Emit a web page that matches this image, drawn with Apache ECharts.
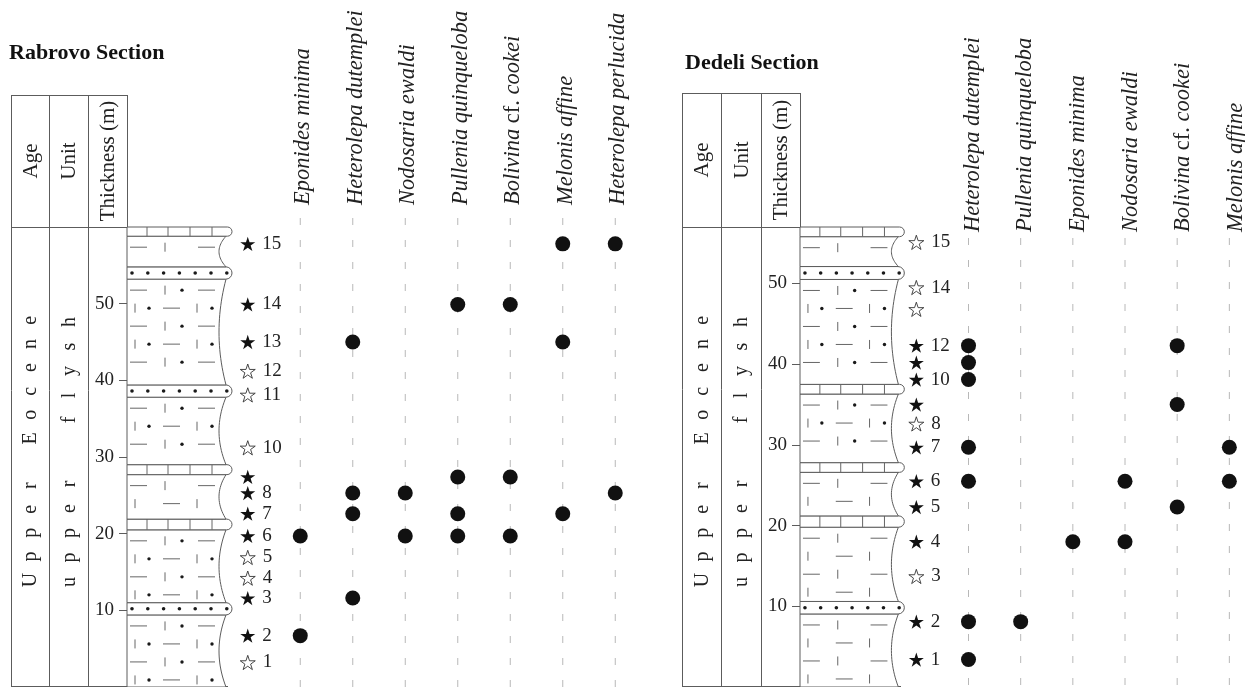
<!DOCTYPE html>
<html>
<head>
<meta charset="utf-8">
<script src="https://cdn.jsdelivr.net/npm/echarts@6/dist/echarts.min.js"></script>
<style>
  html, body { margin: 0; padding: 0; background: #fff; }
  #chart { width: 1245px; height: 687px; }
</style>
</head>
<body>
<div id="chart"></div>
<script>
// ---------------- Rabrovo section ----------------
const rabrovoSampleHeights = [3.2, 6.7, 11.6, 14.2, 16.9, 19.7, 22.6, 25.3, 27.4, 31.2, 38.1, 41.2, 45.0, 49.9, 57.8];
const rabrovoSampleLabels = ['1', '2', '3', '4', '5', '6', '7', '8', '', '10', '11', '12', '13', '14', '15'];
const rabrovoSampleBearing = [false, true, true, false, false, true, true, true, true, false, false, false, true, true, true];
const rabrovoSpecies = ['Eponides minima', 'Heterolepa dutemplei', 'Nodosaria ewaldi', 'Pullenia quinqueloba',
  'Bolivina cf. cookei', 'Melonis affine', 'Heterolepa perlucida'];
// sample numbers in which each species occurs
const rabrovoOccurrences = [[2, 6], [3, 7, 8, 13], [6, 8], [6, 7, 9, 14], [6, 9, 14], [7, 13, 15], [8, 15]];
// lithology: [base (m), top (m), rock type]
const rabrovoLayers = [
  [0, 9.4, 'silty'], [9.4, 11.0, 'sand'], [11.0, 20.5, 'silty'], [20.5, 21.9, 'lime'],
  [21.9, 27.7, 'marl'], [27.7, 29.0, 'lime'], [29.0, 37.8, 'silty'], [37.8, 39.4, 'sand'],
  [39.4, 53.2, 'silty'], [53.2, 54.8, 'sand'], [54.8, 58.8, 'marl'], [58.8, 60, 'lime']
];

// ---------------- Dedeli section ----------------
const dedeliSampleHeights = [3.4, 8.1, 13.7, 18.0, 22.3, 25.5, 29.7, 32.6, 35.0, 38.1, 40.2, 42.3, 46.8, 49.5, 55.1];
const dedeliSampleLabels = ['1', '2', '3', '4', '5', '6', '7', '8', '', '10', '', '12', '', '14', '15'];
const dedeliSampleBearing = [true, true, false, true, true, true, true, false, true, true, true, true, false, false, false];
const dedeliSpecies = ['Heterolepa dutemplei', 'Pullenia quinqueloba', 'Eponides minima', 'Nodosaria ewaldi',
  'Bolivina cf. cookei', 'Melonis affine'];
const dedeliOccurrences = [[1, 2, 6, 7, 10, 11, 12], [2], [4], [4, 6], [5, 9, 12], [6, 7]];
const dedeliLayers = [
  [0, 9.05, 'marl'], [9.05, 10.6, 'sand'], [10.6, 19.8, 'marl'], [19.8, 21.2, 'lime'],
  [21.2, 26.6, 'marl'], [26.6, 27.8, 'lime'], [27.8, 36.3, 'silty'], [36.3, 37.5, 'lime'],
  [37.5, 50.5, 'silty'], [50.5, 52.1, 'sand'], [52.1, 55.8, 'marl'], [55.8, 57, 'lime']
];

const ageWords = ['Upper', 'Eocene'];
const unitWords = ['upper', 'flysh'];
const headerLabels = ['Age', 'Unit', 'Thickness (m)'];

// ---------------- drawing ----------------
const SERIF = '"Liberation Serif", "Times New Roman", serif';
const INK = '#222';
const RULE = '#5c5c5c';
const STAR = 'path://M0,-10L2.245,-3.09L9.51,-3.09L3.633,1.18L5.88,8.09L0,3.82L-5.88,8.09L-3.633,1.18L-9.51,-3.09L-2.245,-3.09Z';

const sections = [
  {
    title: 'Rabrovo Section', heights: rabrovoSampleHeights, labels: rabrovoSampleLabels,
    bearing: rabrovoSampleBearing, species: rabrovoSpecies, occurrences: rabrovoOccurrences,
    layers: rabrovoLayers, maxThickness: 60,
    frame: { gridLeft: 127, gridTop: 227, plotHeight: 465, unit: 52.5, xMin: -3.3, xMax: 6.5,
      cols: [11, 49, 88, 127], tableTop: 95, headerBottom: 227, bottom: 686,
      titleX: 9, titleY: 42, headerBase: 205, guideTop: 218 }
  },
  {
    title: 'Dedeli Section', heights: dedeliSampleHeights, labels: dedeliSampleLabels,
    bearing: dedeliSampleBearing, species: dedeliSpecies, occurrences: dedeliOccurrences,
    layers: dedeliLayers, maxThickness: 57,
    frame: { gridLeft: 800, gridTop: 227, plotHeight: 470, unit: 52.6, xMin: -3.23, xMax: 5.3,
      cols: [682, 721, 761, 800], tableTop: 93, headerBottom: 227, bottom: 686,
      titleX: 685, titleY: 52, headerBase: 232, guideTop: 238 }
  }
];

// column of rock symbols, drawn from the layer table through the axes
function lithologyRenderer(layers, xLeft) {
  return function (params, api) {
    const layer = layers[params.dataIndex];
    const kind = layer[2];
    const a = api.coord([xLeft, layer[1]]);
    const b = api.coord([xLeft, layer[0]]);
    const x0 = a[0], y0 = a[1], y1 = b[1];
    const colW = api.size([2, 0])[0];
    const k = colW / 105;
    const children = [];
    const patternStyle = { stroke: '#666', lineWidth: 1 };
    if (kind === 'lime' || kind === 'sand') {
      const h = y1 - y0;
      children.push({
        type: 'rect',
        shape: { x: x0, y: y0, width: colW, height: h, r: [0, h / 2, h / 2, 0] },
        style: { fill: '#fff', stroke: RULE, lineWidth: 1 }
      });
      if (kind === 'lime') {
        [20, 41, 63, 85].forEach(function (dx) {
          children.push({ type: 'line', shape: { x1: x0 + dx * k, y1: y0, x2: x0 + dx * k, y2: y1 }, style: patternStyle });
        });
      } else {
        for (let i = 0; i < 7; i++) {
          children.push({ type: 'circle', shape: { cx: x0 + (5 + i * 15.8) * k, cy: (y0 + y1) / 2, r: 1.8 }, style: { fill: '#1a1a1a' } });
        }
      }
    } else {
      const edgeEnd = x0 + 99 * k, edgeMid = x0 + 92 * k;
      const pts = [[x0, y0]];
      for (let i = 0; i <= 24; i++) {
        const t = i / 24;
        pts.push([edgeEnd - (edgeEnd - edgeMid) * 4 * t * (1 - t), y0 + t * (y1 - y0)]);
      }
      pts.push([x0, y1]);
      children.push({ type: 'polygon', shape: { points: pts }, style: { fill: '#fff', stroke: RULE, lineWidth: 1 } });
      const dotted = kind === 'silty';
      let row = 0;
      for (let y = y0 + 11; y < y1 - 6; y += 18, row++) {
        const marks = row % 2 === 0
          ? { dashes: [[3, 20], [71, 88]], ticks: [38], dots: [55] }
          : { dashes: [[36, 53]], ticks: [8, 70], dots: [22, 85] };
        marks.dashes.forEach(function (d) {
          children.push({ type: 'line', shape: { x1: x0 + d[0] * k, y1: y, x2: x0 + d[1] * k, y2: y }, style: patternStyle });
        });
        marks.ticks.forEach(function (t) {
          children.push({ type: 'line', shape: { x1: x0 + t * k, y1: y - 4.5, x2: x0 + t * k, y2: y + 4.5 }, style: patternStyle });
        });
        if (dotted) {
          marks.dots.forEach(function (d) {
            children.push({ type: 'circle', shape: { cx: x0 + d * k, cy: y, r: 1.7 }, style: { fill: '#1a1a1a' } });
          });
        }
      }
    }
    return { type: 'group', children: children };
  };
}

function guideRenderer(topPx, bottomPx) {
  return function (params, api) {
    const p = api.coord([api.value(0), 0]);
    return {
      type: 'line',
      shape: { x1: p[0], y1: topPx, x2: p[0], y2: bottomPx },
      style: { stroke: '#b8b8b8', lineWidth: 1, lineDash: [7, 15] }
    };
  };
}

const grids = [], xAxes = [], yAxes = [], series = [], titles = [], graphics = [];

sections.forEach(function (sec, si) {
  const f = sec.frame;
  grids.push({ left: f.gridLeft, top: f.gridTop, width: (f.xMax - f.xMin) * f.unit, height: f.plotHeight });
  xAxes.push({ gridIndex: si, type: 'value', min: f.xMin, max: f.xMax, show: false });
  yAxes.push({
    gridIndex: si, type: 'value', min: 0, max: sec.maxThickness, interval: 10,
    axisLine: { show: true, onZero: false, lineStyle: { color: RULE, width: 1 } },
    axisTick: { show: true, length: 8, lineStyle: { color: RULE } },
    axisLabel: { margin: 13, fontSize: 19, fontFamily: SERIF, color: INK, showMinLabel: false, showMaxLabel: false },
    splitLine: { show: false }
  });

  // lithological column
  series.push({
    type: 'custom', xAxisIndex: si, yAxisIndex: si, z: 2, silent: true,
    renderItem: lithologyRenderer(sec.layers, f.xMin),
    data: sec.layers.map(function (l) { return [f.xMin, l[0], l[1]]; }),
    encode: { x: 0, y: [1, 2] }
  });

  // dashed guide for each species
  series.push({
    type: 'custom', xAxisIndex: si, yAxisIndex: si, z: 1, silent: true,
    renderItem: guideRenderer(f.guideTop, 687),
    data: sec.species.map(function (_, i) { return [i, 0]; }),
    encode: { x: 0, y: 1 }
  });

  // sample levels (filled star = foraminifera recovered)
  series.push({
    type: 'scatter', xAxisIndex: si, yAxisIndex: si, z: 4,
    symbol: STAR, symbolSize: 15, symbolKeepAspect: true,
    data: sec.heights.map(function (h, i) {
      return {
        value: [-1, h],
        itemStyle: sec.bearing[i]
          ? { color: '#111', borderWidth: 0, opacity: 1 }
          : { color: '#fff', borderColor: '#333', borderWidth: 0.9, opacity: 1 }
      };
    }),
    label: {
      show: true, position: 'right', distance: 7,
      formatter: function (p) { return sec.labels[p.dataIndex]; },
      fontFamily: SERIF, fontSize: 19, color: INK
    }
  });

  // species occurrences
  const dots = [];
  sec.occurrences.forEach(function (list, sp) {
    list.forEach(function (n) { dots.push([sp, sec.heights[n - 1]]); });
  });
  series.push({
    type: 'scatter', xAxisIndex: si, yAxisIndex: si, z: 5,
    symbol: 'circle', symbolSize: 15,
    itemStyle: { color: '#111', opacity: 1 },
    data: dots
  });

  titles.push({
    text: sec.title, left: f.titleX, top: f.titleY, padding: 0,
    textStyle: { fontFamily: SERIF, fontWeight: 'bold', fontSize: 22, color: '#111' }
  });

  // header table
  const c = f.cols;
  const line = function (x1, y1, x2, y2) {
    graphics.push({ type: 'line', silent: true, shape: { x1: x1, y1: y1, x2: x2, y2: y2 }, style: { stroke: RULE, lineWidth: 1 } });
  };
  [c[0], c[1], c[2]].forEach(function (x) { line(x + 0.5, f.tableTop, x + 0.5, f.bottom); });
  line(c[3] + 0.5, f.tableTop, c[3] + 0.5, f.headerBottom);
  line(c[0], f.tableTop + 0.5, c[3] + 0.5, f.tableTop + 0.5);
  line(c[0], f.headerBottom + 0.5, c[3] + 0.5, f.headerBottom + 0.5);
  line(c[0], f.bottom + 0.5, c[3] + 101, f.bottom + 0.5);

  const midY = (f.tableTop + f.headerBottom) / 2;
  headerLabels.forEach(function (t, i) {
    graphics.push({
      type: 'text', x: (c[i] + c[i + 1]) / 2 + 1, y: midY, rotation: Math.PI / 2, silent: true,
      style: { text: t, fontFamily: SERIF, fontSize: 21, fill: INK, align: 'center', verticalAlign: 'middle' }
    });
  });

  // spaced, rotated words in the Age and Unit columns
  const spaced = function (words, cx, yStart, pitch, gap) {
    let y = yStart;
    words.forEach(function (w, wi) {
      if (wi > 0) y -= gap;
      for (const ch of w) {
        graphics.push({
          type: 'text', x: cx, y: y, rotation: Math.PI / 2, silent: true,
          style: { text: ch, fontFamily: SERIF, fontSize: 20, fill: INK, align: 'center', verticalAlign: 'middle' }
        });
        y -= pitch;
      }
    });
  };
  spaced(ageWords, (c[0] + c[1]) / 2 + 1, 580, 23.6, 23.6);
  spaced(unitWords, (c[1] + c[2]) / 2 + 1, 582, 24.5, 39.5);

  // species names above their guides
  sec.species.forEach(function (name, i) {
    const x = f.gridLeft + (i - f.xMin) * f.unit + 3;
    const parts = name.split(' cf. ');
    const style = {
      fontFamily: SERIF, fontSize: 22.5, fontStyle: 'italic', fill: INK,
      align: 'left', verticalAlign: 'middle'
    };
    if (parts.length === 2) {
      style.text = '{i|' + parts[0] + '} {n|cf.} {i|' + parts[1] + '}';
      style.rich = {
        i: { fontFamily: SERIF, fontSize: 22.5, fontStyle: 'italic', fill: INK },
        n: { fontFamily: SERIF, fontSize: 22.5, fontStyle: 'normal', fill: INK }
      };
    } else {
      style.text = name;
    }
    graphics.push({ type: 'text', x: x, y: f.headerBase, rotation: Math.PI / 2, silent: true, style: style });
  });
});

const chart = echarts.init(document.getElementById('chart'), null, { renderer: 'canvas' });
chart.setOption({
  backgroundColor: '#fff',
  animation: false,
  title: titles,
  grid: grids,
  xAxis: xAxes,
  yAxis: yAxes,
  series: series,
  graphic: { elements: graphics }
});
</script>
</body>
</html>
